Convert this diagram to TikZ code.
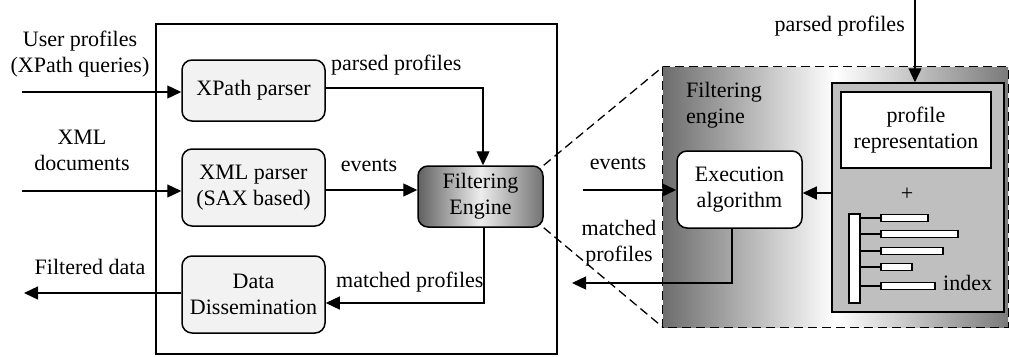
\documentclass[tikz,border=0pt]{standalone}
\usepackage{fontspec}
\setmainfont{Liberation Serif}
\usetikzlibrary{arrows.meta}
\begin{document}
\begin{tikzpicture}[x=1pt,y=-1pt,
  every node/.style={font=\fontsize{22}{26}\selectfont, inner sep=0pt},
  rbox/.style={draw, line width=1.5pt, rounded corners=10pt, fill=black!5, align=center},
  lbl/.style={align=center},
  arr/.style={line width=1.3pt, -{Triangle[length=14pt,width=13pt]}},
  ln/.style={line width=1.3pt},
  zl/.style={line width=1.3pt, dash pattern=on 9pt off 5pt},
  bar/.style={draw, line width=1.3pt, fill=white}]
\useasboundingbox (0,0) rectangle (1009,356);
% main box
\node[draw, line width=1.5pt, minimum width=401pt, minimum height=330pt] (main) at (356.5,189) {};
% left boxes
\node[rbox, minimum width=143pt, minimum height=61pt] (xpath) at (253.5,90.5) {XPath parser};
\node[rbox, minimum width=143pt, minimum height=77pt] (xml) at (253.5,187.5) {XML parser\\(SAX based)};
\node[rbox, minimum width=143pt, minimum height=77pt] (dd) at (253.5,294.5) {Data\\Dissemination};
\node[draw, line width=1.5pt, rounded corners=10pt, left color=black!62, right color=black!55, middle color=black!7, align=center, minimum width=125pt, minimum height=61pt] (fe) at (480.5,196.5) {Filtering\\Engine};
% left labels
\node[lbl] (tup) at (80,54) {User profiles\\(XPath queries)};
\node[lbl] (txml) at (82,150) {XML\\documents};
\node[lbl] (tfd) at (90,267) {Filtered data};
\node[anchor=west] (tpp) at (331,65) {parsed profiles};
\node (tev) at (369,165) {events};
\node[anchor=west] (tmp) at (336,282) {matched profiles};
% left connectors
\coordinate (in1) at (22,92);
\coordinate (in2) at (22,191);
\coordinate (out1) at (24,293);
\coordinate (ppx) at (483,88);
\coordinate (evy) at (330,190);
\coordinate (mpx) at (484,303);
\draw[arr] (in1) -- (in1 -| xpath.west);
\draw[arr] (in2) -- (in2 -| xml.west);
\draw[arr] (out1 -| dd.west) -- (out1);
\draw[arr] (ppx -| xpath.east) -- (ppx) -- (ppx |- fe.north);
\draw[arr] (evy -| xml.east) -- (evy -| fe.west);
\draw[arr] (mpx |- fe.south) -- (mpx) -- (mpx -| dd.east);
% zoom box
\node[minimum width=345pt, minimum height=260pt, left color=black!57, right color=black!52, middle color=white] (zoom) at (835.5,197) {};
\node[draw, line width=1.5pt, fill=black!25, minimum width=172pt, minimum height=229pt] (panel) at (918,197.5) {};
\node[draw, line width=1.5pt, fill=white, align=center, minimum width=150pt, minimum height=76pt] (prof) at (916,130) {profile\\representation};
\node[draw, line width=1.5pt, rounded corners=10pt, fill=white, align=center, minimum width=125pt, minimum height=77pt] (exec) at (739.5,189.5) {Execution\\algorithm};
\node[anchor=west, align=left] (tfe) at (686,105) {Filtering\\engine};
\node (plus) at (907,194) {+};
% index
\node[bar, minimum width=11pt, minimum height=89pt] (vb) at (854.5,258.5) {};
\node[bar, minimum width=47pt, minimum height=7pt] (b1) at (904.5,218) {};
\node[bar, minimum width=77pt, minimum height=7pt] (b2) at (919.5,234) {};
\node[bar, minimum width=62pt, minimum height=7pt] (b3) at (912,251) {};
\node[bar, minimum width=31pt, minimum height=7pt] (b4) at (896.5,267) {};
\node[bar, minimum width=54pt, minimum height=7pt] (b5) at (908,286) {};
\foreach \b in {b1,b2,b3,b4,b5} \draw[ln] (\b.west -| vb.east) -- (\b.west);
\node[anchor=west] (tidx) at (943,283) {index};
% zoom box border and zoom lines
\draw[zl] (zoom.north west) rectangle (zoom.south east);
\draw[zl] (fe.north east) -- (zoom.north west);
\draw[zl] (fe.south east) -- (zoom.south west);
% right labels and connectors
\node[anchor=east] (tpp2) at (905,26) {parsed profiles};
\node (tev2) at (618,163) {events};
\node[lbl] (tmp2) at (619,243) {matched\\profiles};
\coordinate (pptop) at (915,0);
\coordinate (evr) at (583,190);
\coordinate (mr) at (572,283);
\coordinate (exb) at (732,228);
\coordinate (pe) at (832,193);
\draw[arr] (pptop) -- (pptop |- panel.north);
\draw[arr] (evr) -- (evr -| exec.west);
\draw[arr] (pe -| panel.west) -- (pe -| exec.east);
\draw[arr] (exb |- exec.south) -- (exb |- mr) -- (mr);
\end{tikzpicture}
\end{document}
